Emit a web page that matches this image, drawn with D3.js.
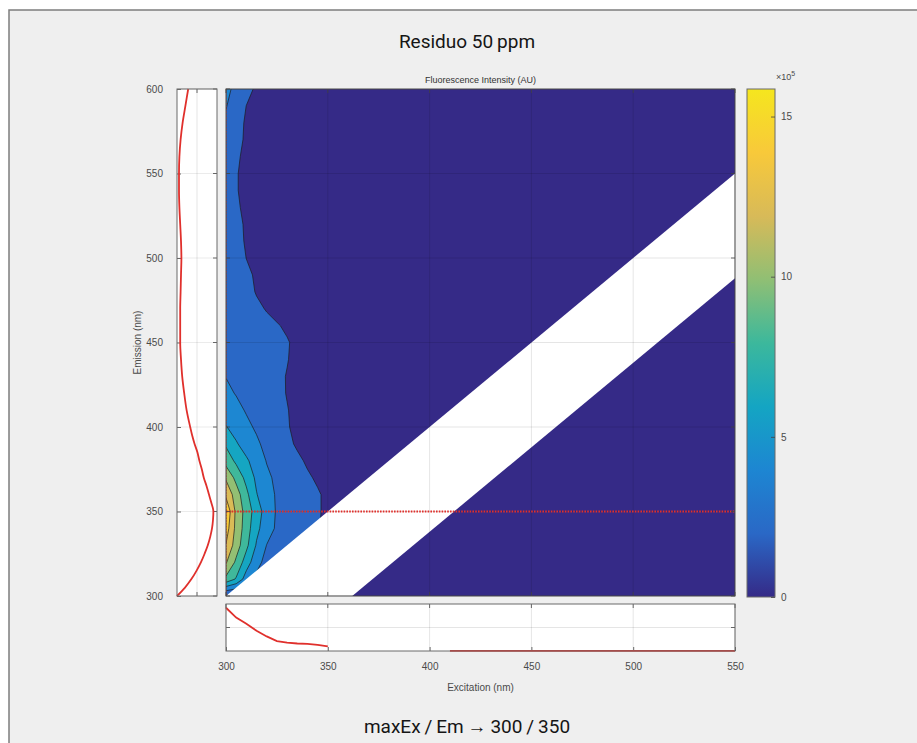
<!DOCTYPE html>
<html><head><meta charset="utf-8">
<script src="https://cdn.jsdelivr.net/npm/d3@7"></script>
<style>html,body{margin:0;padding:0;background:#fff;}svg{display:block;}</style>
</head><body>
<script>
// ---------- DATA ----------
const title = "Residuo 50\u2009ppm";
const subtitle = "maxEx\u2009/\u2009Em\u2009\u2192\u2009300\u2009/\u2009350";
const mapTitle = "Fluorescence Intensity (AU)";
const xLabel = "Excitation (nm)";
const yLabel = "Emission (nm)";
const xTicks = [300, 350, 400, 450, 500, 550];
const yTicks = [300, 350, 400, 450, 500, 550, 600];
const cbTicks = [0, 5, 10, 15];
const cbMax = 15.86;               // x10^5
const contourLevels = [2, 4, 6, 8, 10, 12, 14];

// intensity grid (x10^5): columns = excitation, rows = emission
const exGrid = [300, 305, 310, 315, 320, 325, 330, 335, 340, 345, 350, 355, 360];
const emGrid = [300, 310, 320, 330, 340, 350, 360, 370, 380, 390, 400, 410, 420, 430, 440, 450,
                460, 470, 480, 490, 500, 510, 520, 530, 540, 550, 560, 570, 580, 590, 600];
const intensityRows = [
  [1.5, 1.2, 1.0, 0.9, 0.8, 0.7, 0.6, 0.5, 0.5, 0.4, 0.4, 0.3, 0.3],
  [9.5, 7.8, 5.0, 3.5, 2.8, 2.4, 2.1, 1.9, 1.7, 1.5, 1.3, 1.1, 1.0],
  [12.2, 9.6, 7.0, 4.7, 3.3, 2.8, 2.5, 2.2, 2.05, 1.8, 1.5, 1.2, 1.0],
  [13.9, 11.0, 8.5, 5.8, 3.95, 3.2, 2.8, 2.5, 2.2, 1.9, 1.6, 1.3, 1.0],
  [15.0, 11.4, 9.0, 6.5, 4.9, 3.7, 3.1, 2.7, 2.4, 2.1, 1.7, 1.3, 1.0],
  [15.8, 11.5, 9.2, 7.0, 5.1, 3.8, 3.2, 2.8, 2.5, 2.15, 1.7, 1.3, 1.0],
  [13.6, 11.0, 8.5, 6.1, 4.7, 3.8, 3.2, 2.8, 2.5, 2.15, 1.7, 1.3, 1.0],
  [11.7, 9.4, 7.4, 5.6, 4.4, 3.6, 3.0, 2.6, 2.2, 1.8, 1.5, 1.2, 1.0],
  [9.2, 7.6, 6.3, 5.1, 3.9, 3.2, 2.7, 2.3, 1.8, 1.5, 1.3, 1.1, 1.0],
  [7.7, 6.2, 5.1, 4.3, 3.5, 2.9, 2.35, 1.8, 1.5, 1.3, 1.1, 1.0, 0.9],
  [6.1, 5.2, 4.4, 3.75, 3.1, 2.6, 2.1, 1.7, 1.4, 1.2, 1.0, 0.9, 0.8],
  [5.1, 4.5, 3.85, 3.3, 2.8, 2.4, 2.05, 1.7, 1.4, 1.2, 1.0, 0.9, 0.8],
  [4.4, 3.9, 3.45, 3.0, 2.6, 2.3, 1.95, 1.7, 1.4, 1.2, 1.0, 0.9, 0.8],
  [3.95, 3.5, 3.15, 2.85, 2.55, 2.25, 1.95, 1.6, 1.4, 1.2, 1.0, 0.9, 0.8],
  [3.9, 3.5, 3.2, 2.9, 2.6, 2.3, 2.05, 1.7, 1.4, 1.2, 1.0, 0.9, 0.8],
  [3.8, 3.5, 3.2, 2.9, 2.6, 2.3, 2.1, 1.7, 1.4, 1.2, 1.0, 0.9, 0.8],
  [3.7, 3.4, 3.0, 2.7, 2.4, 2.1, 1.8, 1.5, 1.3, 1.1, 1.0, 0.9, 0.8],
  [3.6, 3.2, 2.8, 2.3, 1.9, 1.6, 1.4, 1.2, 1.1, 1.0, 0.9, 0.8, 0.7],
  [3.5, 3.0, 2.5, 1.9, 1.6, 1.4, 1.2, 1.1, 1.0, 0.9, 0.8, 0.7, 0.7],
  [3.4, 2.9, 2.3, 1.8, 1.5, 1.3, 1.2, 1.1, 1.0, 0.9, 0.8, 0.7, 0.7],
  [3.3, 2.7, 1.98, 1.7, 1.4, 1.2, 1.1, 1.0, 0.9, 0.8, 0.8, 0.7, 0.7],
  [3.3, 2.6, 1.8, 1.5, 1.3, 1.2, 1.1, 1.0, 0.9, 0.8, 0.8, 0.7, 0.7],
  [3.2, 2.4, 1.8, 1.5, 1.3, 1.2, 1.1, 1.0, 0.9, 0.8, 0.8, 0.7, 0.7],
  [3.2, 2.2, 1.7, 1.5, 1.3, 1.2, 1.1, 1.0, 0.9, 0.8, 0.8, 0.7, 0.7],
  [3.2, 2.1, 1.6, 1.4, 1.3, 1.2, 1.1, 1.0, 0.9, 0.8, 0.8, 0.7, 0.7],
  [3.2, 2.1, 1.6, 1.4, 1.3, 1.2, 1.1, 1.0, 0.9, 0.8, 0.8, 0.7, 0.7],
  [3.3, 2.2, 1.7, 1.4, 1.3, 1.2, 1.1, 1.0, 0.9, 0.8, 0.8, 0.7, 0.7],
  [3.5, 2.4, 1.8, 1.5, 1.3, 1.2, 1.1, 1.0, 0.9, 0.8, 0.8, 0.7, 0.7],
  [3.7, 2.6, 1.8, 1.5, 1.3, 1.2, 1.1, 1.0, 0.9, 0.8, 0.8, 0.7, 0.7],
  [4.1, 3.0, 1.98, 1.6, 1.4, 1.2, 1.1, 1.0, 0.9, 0.8, 0.8, 0.7, 0.7],
  [4.5, 3.5, 2.6, 1.7, 1.3, 1.0, 0.9, 0.8, 0.8, 0.7, 0.7, 0.7, 0.7]
];

// scatter band (masked, white): Em between lower and upper edge
const bandEx = [300, 550];
const bandUpperEm = [300, 550];
const bandLowerEm = [238, 488];

// emission profile at Ex = 300 (left panel)
const emProfileEm = [300, 305, 310, 315, 320, 325, 330, 335, 340, 345, 350, 355, 360, 365, 370, 375, 380, 385, 390, 395, 400,
                     410, 420, 430, 440, 450, 460, 470, 480, 490, 500, 510, 520, 530, 540, 550, 560, 570, 580, 590, 600];
const emProfileVal = [0, 4.0, 7.2, 9.8, 12.0, 13.8, 15.4, 16.6, 17.5, 18.0, 18.2, 17.2, 16.0, 14.8, 13.4, 12.4, 11.2, 10.2, 8.8, 7.6, 6.6,
                      4.8, 3.6, 2.6, 2.0, 1.6, 1.6, 1.6, 1.8, 2.0, 2.2, 2.0, 1.6, 1.2, 1.0, 1.0, 1.2, 1.8, 2.8, 4.2, 5.6];
// excitation profile at Em = 350 (bottom panel), two measured segments
const exProfileEmA = [300, 305, 310, 315, 320, 325, 330, 335, 340, 345, 350];
const exProfileValA = [18.4, 14.2, 11.6, 8.6, 6.2, 4.2, 3.6, 3.2, 3.0, 2.6, 2.0];
const exProfileEmB = [410, 430, 450, 470, 490, 510, 530, 550];
const exProfileValB = [0.05, 0.05, 0.05, 0.05, 0.05, 0.05, 0.05, 0.05];
const profileMax = 20;
const maxEx = 300, maxEm = 350;

// parula-like colour stops
const cmapStops = ["#352a87", "#2a68c6", "#1d86d2", "#14a5c3", "#3cb89c", "#90bf74", "#d8ba58", "#f8c93a", "#f5e61e"];

// ---------- DRAW ----------
const W = 917, H = 743;
const svg = d3.select("body").append("svg").attr("width", W).attr("height", H);
const tickFont = "'Liberation Sans', Arial, sans-serif";

const cmap = d3.scaleLinear().domain(d3.range(cmapStops.length).map(i => i / (cmapStops.length - 1))).range(cmapStops).clamp(true);
const colorOf = v => cmap(v / cbMax);

// frame
svg.append("rect").attr("x", 9).attr("y", 10).attr("width", W + 20).attr("height", H + 20)
  .attr("fill", "#efefef").attr("stroke", "#7d7d7d").attr("stroke-width", 1.5);

svg.append("text").attr("x", 467).attr("y", 48).attr("text-anchor", "middle")
  .style("font-family", "Roboto, 'Noto Sans', sans-serif").style("font-size", "19px").attr("fill", "#151515").text(title);
svg.append("text").attr("x", 467).attr("y", 733).attr("text-anchor", "middle")
  .style("font-family", "Roboto, 'Noto Sans', sans-serif").style("font-size", "19px").attr("fill", "#151515").text(subtitle);

// scales
const x = d3.scaleLinear().domain([300, 550]).range([226, 735]);
const y = d3.scaleLinear().domain([300, 600]).range([596, 89]);
const lx = d3.scaleLinear().domain([0, profileMax]).range([177, 217]);
const by = d3.scaleLinear().domain([0, profileMax]).range([651, 604]);
const cy = d3.scaleLinear().domain([0, cbMax]).range([597, 89]);

const x0 = x.range()[0], x1 = x.range()[1], y0 = y.range()[1], y1 = y.range()[0];

svg.append("text").attr("x", (x0 + x1) / 2).attr("y", 83).attr("text-anchor", "middle")
  .style("font-family", tickFont).style("font-size", "9px").attr("fill", "#333").text(mapTitle);

// ----- main contour map -----
const defs = svg.append("defs");
defs.append("clipPath").attr("id", "mainClip").append("rect")
  .attr("x", x0).attr("y", y0).attr("width", x1 - x0).attr("height", y1 - y0);
const main = svg.append("g").attr("clip-path", "url(#mainClip)");
main.append("rect").attr("x", x0).attr("y", y0).attr("width", x1 - x0).attr("height", y1 - y0).attr("fill", colorOf(0));

const nx = exGrid.length, ny = emGrid.length;
const flat = [];
intensityRows.forEach(r => r.forEach(v => flat.push(v)));
const exStep = exGrid[1] - exGrid[0], emStep = emGrid[1] - emGrid[0];
const proj = d3.geoTransform({
  point: function(px, py) {
    this.stream.point(x(exGrid[0] + (px - 0.5) * exStep), y(emGrid[0] + (py - 0.5) * emStep));
  }
});
const gpath = d3.geoPath(proj);
const cont = d3.contours().size([nx, ny]).thresholds(contourLevels)(flat);
main.selectAll("path.c").data(cont).join("path").attr("class", "c")
  .attr("d", gpath).attr("fill", d => colorOf(d.value))
  .attr("stroke", "#1a1a1a").attr("stroke-width", 0.8).attr("stroke-opacity", 0.85);

// scatter band
const bandPts = [[bandEx[0], bandUpperEm[0]], [bandEx[1], bandUpperEm[1]], [bandEx[1], bandLowerEm[1]], [bandEx[0], bandLowerEm[0]]];
main.append("path").attr("d", d3.line().x(d => x(d[0])).y(d => y(d[1]))(bandPts) + "Z").attr("fill", "#fff");

// grid on top
main.selectAll("line.gx").data(xTicks).join("line").attr("x1", d => x(d)).attr("x2", d => x(d))
  .attr("y1", y0).attr("y2", y1).attr("stroke", "#000").attr("stroke-opacity", 0.13).attr("stroke-width", 0.8);
main.selectAll("line.gy").data(yTicks).join("line").attr("y1", d => y(d)).attr("y2", d => y(d))
  .attr("x1", x0).attr("x2", x1).attr("stroke", "#000").attr("stroke-opacity", 0.13).attr("stroke-width", 0.8);

// red cross-section lines
main.append("line").attr("x1", x(300)).attr("x2", x(550)).attr("y1", y(maxEm)).attr("y2", y(maxEm))
  .attr("stroke", "#e0302c").attr("stroke-width", 1.8).attr("stroke-dasharray", "1.6,1.2");
main.append("line").attr("x1", x(maxEx) + 0.5).attr("x2", x(maxEx) + 0.5).attr("y1", y0).attr("y2", y1)
  .attr("stroke", "#e0302c").attr("stroke-width", 1).attr("stroke-opacity", 0.6).attr("stroke-dasharray", "1.6,1.2");

// ticks (inward) and border
const tg = svg.append("g").attr("stroke", "#444").attr("stroke-width", 0.8);
xTicks.forEach(t => {
  tg.append("line").attr("x1", x(t)).attr("x2", x(t)).attr("y1", y1).attr("y2", y1 - 4);
  tg.append("line").attr("x1", x(t)).attr("x2", x(t)).attr("y1", y0).attr("y2", y0 + 4);
});
yTicks.forEach(t => {
  tg.append("line").attr("y1", y(t)).attr("y2", y(t)).attr("x1", x0).attr("x2", x0 + 4);
  tg.append("line").attr("y1", y(t)).attr("y2", y(t)).attr("x1", x1).attr("x2", x1 - 4);
});
svg.append("rect").attr("x", x0).attr("y", y0).attr("width", x1 - x0).attr("height", y1 - y0)
  .attr("fill", "none").attr("stroke", "#4a4a4a").attr("stroke-width", 1);

// ----- left panel (emission profile) -----
const lp = svg.append("g");
lp.append("rect").attr("x", lx.range()[0]).attr("y", y0).attr("width", lx.range()[1] - lx.range()[0]).attr("height", y1 - y0).attr("fill", "#fff");
lp.append("line").attr("x1", lx(profileMax / 2)).attr("x2", lx(profileMax / 2)).attr("y1", y0).attr("y2", y1)
  .attr("stroke", "#000").attr("stroke-opacity", 0.13).attr("stroke-width", 0.8);
lp.selectAll("line.g").data(yTicks).join("line").attr("x1", lx.range()[0]).attr("x2", lx.range()[1])
  .attr("y1", d => y(d)).attr("y2", d => y(d)).attr("stroke", "#000").attr("stroke-opacity", 0.1).attr("stroke-width", 0.8);
const leftAxis = lp.append("g").attr("transform", `translate(${lx.range()[0]},0)`)
  .call(d3.axisLeft(y).tickValues(yTicks).tickSize(-4).tickPadding(14));
leftAxis.select(".domain").remove();
leftAxis.selectAll("line").attr("stroke", "#444").attr("stroke-width", 0.8);
leftAxis.selectAll("text").style("font-family", tickFont).style("font-size", "10px").attr("fill", "#4a4a4a");
yTicks.forEach(t => lp.append("line").attr("x1", lx.range()[1]).attr("x2", lx.range()[1] - 4).attr("y1", y(t)).attr("y2", y(t)).attr("stroke", "#444").attr("stroke-width", 0.8));
lp.append("line").attr("x1", lx(profileMax / 2)).attr("x2", lx(profileMax / 2)).attr("y1", y0).attr("y2", y0 + 4).attr("stroke", "#444").attr("stroke-width", 0.8);
lp.append("line").attr("x1", lx(profileMax / 2)).attr("x2", lx(profileMax / 2)).attr("y1", y1).attr("y2", y1 - 4).attr("stroke", "#444").attr("stroke-width", 0.8);
lp.append("path").datum(emProfileEm.map((e, i) => [emProfileVal[i], e]))
  .attr("d", d3.line().x(d => lx(d[0])).y(d => y(d[1])).curve(d3.curveMonotoneY))
  .attr("fill", "none").attr("stroke", "#e0302c").attr("stroke-width", 1.8);
lp.append("rect").attr("x", lx.range()[0]).attr("y", y0).attr("width", lx.range()[1] - lx.range()[0]).attr("height", y1 - y0)
  .attr("fill", "none").attr("stroke", "#6a6a6a").attr("stroke-width", 1);
svg.append("text").attr("transform", `translate(141,${(y0 + y1) / 2}) rotate(-90)`).attr("text-anchor", "middle")
  .style("font-family", tickFont).style("font-size", "10px").attr("fill", "#4a4a4a").text(yLabel);

// ----- bottom panel (excitation profile) -----
const bp = svg.append("g");
const bt = by.range()[1], bb = by.range()[0];
bp.append("rect").attr("x", x0).attr("y", bt).attr("width", x1 - x0).attr("height", bb - bt).attr("fill", "#fff");
bp.selectAll("line.g").data(xTicks).join("line").attr("x1", d => x(d)).attr("x2", d => x(d)).attr("y1", bt).attr("y2", bb)
  .attr("stroke", "#000").attr("stroke-opacity", 0.13).attr("stroke-width", 0.8);
bp.append("line").attr("x1", x0).attr("x2", x1).attr("y1", by(profileMax / 2)).attr("y2", by(profileMax / 2))
  .attr("stroke", "#000").attr("stroke-opacity", 0.13).attr("stroke-width", 0.8);
const botAxis = bp.append("g").attr("transform", `translate(0,${bb})`)
  .call(d3.axisBottom(x).tickValues(xTicks).tickSize(-4).tickPadding(12));
botAxis.select(".domain").remove();
botAxis.selectAll("line").attr("stroke", "#444").attr("stroke-width", 0.8);
botAxis.selectAll("text").style("font-family", tickFont).style("font-size", "10px").attr("fill", "#4a4a4a");
xTicks.forEach(t => bp.append("line").attr("x1", x(t)).attr("x2", x(t)).attr("y1", bt).attr("y2", bt + 4).attr("stroke", "#444").attr("stroke-width", 0.8));
bp.append("line").attr("x1", x0).attr("x2", x0 + 4).attr("y1", by(profileMax / 2)).attr("y2", by(profileMax / 2)).attr("stroke", "#444").attr("stroke-width", 0.8);
bp.append("line").attr("x1", x1).attr("x2", x1 - 4).attr("y1", by(profileMax / 2)).attr("y2", by(profileMax / 2)).attr("stroke", "#444").attr("stroke-width", 0.8);
const bline = d3.line().x(d => x(d[0])).y(d => by(d[1]));
bp.append("path").datum(exProfileEmA.map((e, i) => [e, exProfileValA[i]])).attr("d", bline)
  .attr("fill", "none").attr("stroke", "#e0302c").attr("stroke-width", 1.8);
bp.append("path").datum(exProfileEmB.map((e, i) => [e, exProfileValB[i]])).attr("d", bline)
  .attr("fill", "none").attr("stroke", "#e0302c").attr("stroke-width", 1.8);
bp.append("rect").attr("x", x0).attr("y", bt).attr("width", x1 - x0).attr("height", bb - bt)
  .attr("fill", "none").attr("stroke", "#6a6a6a").attr("stroke-width", 1);
svg.append("text").attr("x", (x0 + x1) / 2).attr("y", 691).attr("text-anchor", "middle")
  .style("font-family", tickFont).style("font-size", "10px").attr("fill", "#4a4a4a").text(xLabel);

// ----- colorbar -----
const cbx = 747, cbw = 28;
const grad = defs.append("linearGradient").attr("id", "cbGrad").attr("x1", 0).attr("y1", 1).attr("x2", 0).attr("y2", 0);
cmapStops.forEach((c, i) => grad.append("stop").attr("offset", i / (cmapStops.length - 1)).attr("stop-color", c));
svg.append("rect").attr("x", cbx).attr("y", cy(cbMax)).attr("width", cbw).attr("height", cy(0) - cy(cbMax))
  .attr("fill", "url(#cbGrad)").attr("stroke", "#6a6a6a").attr("stroke-width", 1);
const cbAxis = svg.append("g").attr("transform", `translate(${cbx + cbw},0)`)
  .call(d3.axisRight(cy).tickValues(cbTicks).tickSize(-4).tickPadding(6));
cbAxis.select(".domain").remove();
cbAxis.selectAll("line").attr("stroke", "#444").attr("stroke-width", 0.8);
cbAxis.selectAll("text").style("font-family", tickFont).style("font-size", "10px").attr("fill", "#4a4a4a");
const expT = svg.append("text").attr("x", 776).attr("y", 80).style("font-family", tickFont).style("font-size", "9px").attr("fill", "#4a4a4a");
expT.append("tspan").text("\u00d710");
expT.append("tspan").attr("dy", -4).style("font-size", "7px").text("5");
</script>
</body></html>
